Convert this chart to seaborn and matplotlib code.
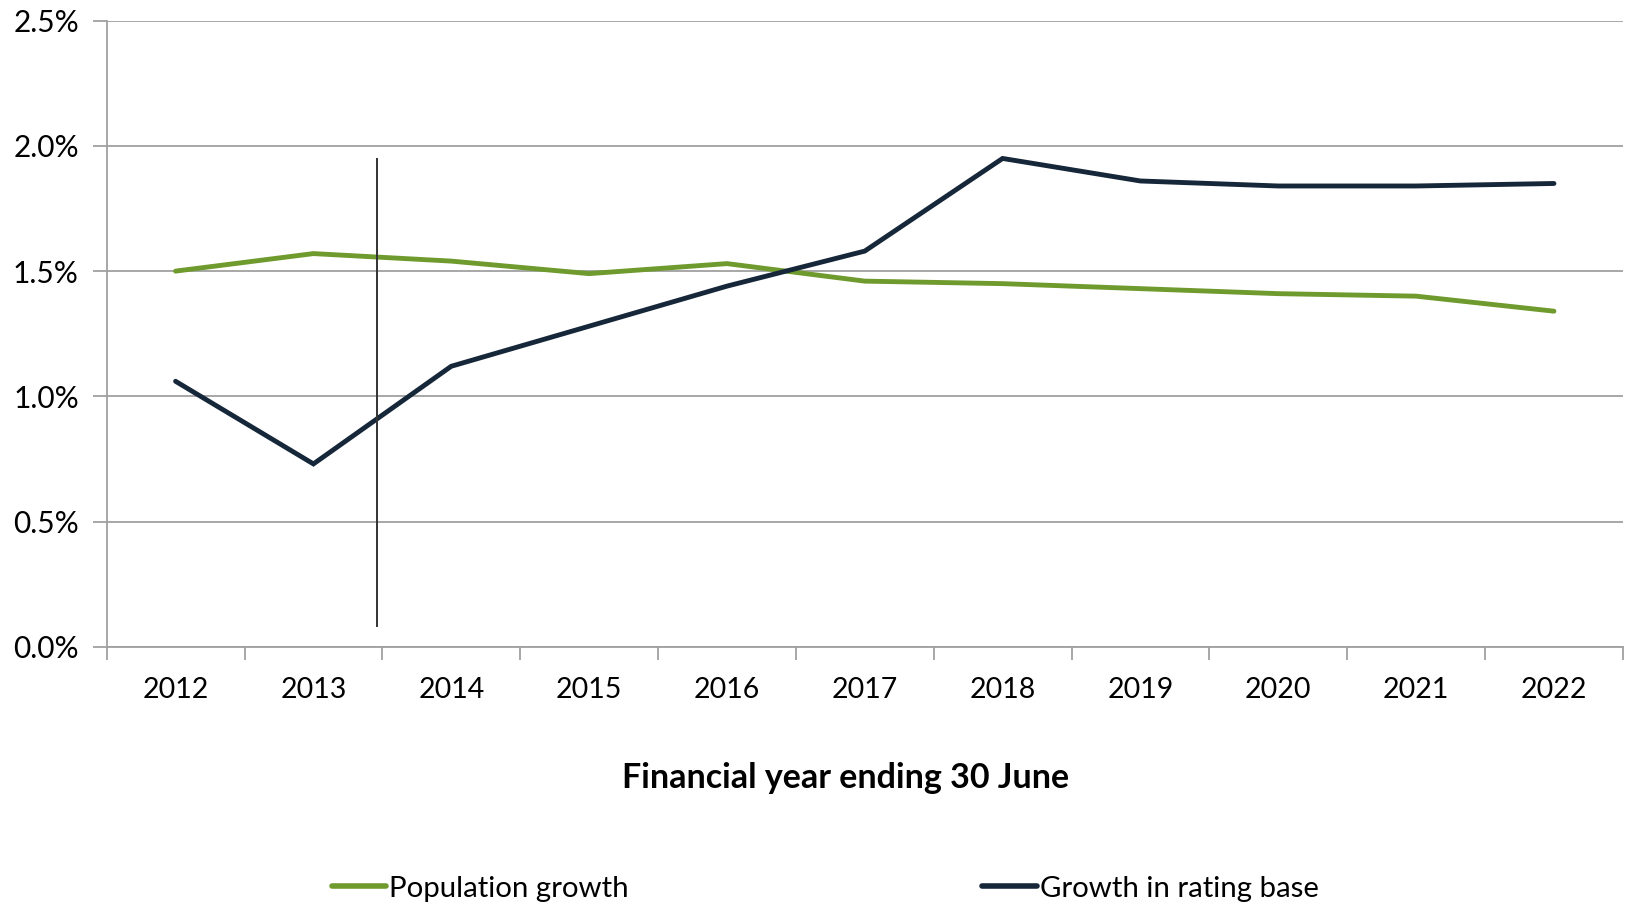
import matplotlib
matplotlib.use("Agg")
import matplotlib.pyplot as plt
import seaborn as sns
import pandas as pd
from matplotlib.ticker import FuncFormatter, FixedLocator
from matplotlib.lines import Line2D

years = ["2012", "2013", "2014", "2015", "2016", "2017", "2018", "2019", "2020", "2021", "2022"]
population_growth = [1.50, 1.57, 1.54, 1.49, 1.53, 1.46, 1.45, 1.43, 1.41, 1.40, 1.34]
rating_base_growth = [1.06, 0.73, 1.12, 1.28, 1.44, 1.58, 1.95, 1.86, 1.84, 1.84, 1.85]
series_names = ["Population growth", "Growth in rating base"]
y_ticks = [0.0, 0.5, 1.0, 1.5, 2.0, 2.5]
marker_line = (1.46, 0.08, 1.95)  # x position (between 2013 and 2014), y bottom, y top

df = pd.DataFrame({
    "year": years * 2,
    "value": population_growth + rating_base_growth,
    "series": [series_names[0]] * len(years) + [series_names[1]] * len(years),
})

sns.set_theme(style="white")
plt.rcParams["font.family"] = ["Lato", "DejaVu Sans"]
plt.rcParams["text.color"] = "black"

fig = plt.figure(figsize=(16.31, 9.05), dpi=100)
ax = fig.add_axes([0.0654, 0.2854, 0.9296, 0.6917])

palette = {series_names[0]: "#6f9a2d", series_names[1]: "#17273a"}
sns.lineplot(data=df, x="year", y="value", hue="series", palette=palette,
             linewidth=3.5, ax=ax, sort=False, legend=False,
             solid_capstyle="round", solid_joinstyle="miter")

ax.set_xlim(-0.5, len(years) - 0.5)
ax.set_ylim(0, 2.5)
ax.yaxis.set_major_locator(FixedLocator(y_ticks))
ax.yaxis.set_major_formatter(FuncFormatter(lambda v, p: f"{v:.1f}%"))
ax.grid(axis="y", color="#a0a0a0", linewidth=1.3)
ax.set_axisbelow(True)

ax.set_xticks(range(len(years)))
ax.set_xticklabels(years)
ax.set_xticks([i - 0.5 for i in range(len(years) + 1)], minor=True)
ax.tick_params(axis="x", which="major", length=0, pad=22, labelsize=20.5, colors="black")
ax.tick_params(axis="x", which="minor", length=9, width=1.3, color="#a0a0a0", direction="out", bottom=True)
ax.tick_params(axis="y", which="major", length=10, width=1.3, color="#a0a0a0", direction="out",
               left=True, pad=10, labelsize=21.5, labelcolor="black")

for s in ["top", "right"]:
    ax.spines[s].set_visible(False)
for s in ["left", "bottom"]:
    ax.spines[s].set_color("#a0a0a0")
    ax.spines[s].set_linewidth(1.3)

ax.vlines(marker_line[0], marker_line[1], marker_line[2], color="#333333", linewidth=1.4)

ax.set_xlabel("Financial year ending 30 June", fontsize=24.5, fontweight="bold", labelpad=42, color="black")
ax.xaxis.label.set_x(0.4876)
ax.set_ylabel("")

handles = [Line2D([0], [0], color=palette[n], linewidth=4, solid_capstyle="round") for n in series_names]
leg = fig.legend(handles, series_names, loc="center", bbox_to_anchor=(0.506, 0.018), ncol=2,
                 frameon=False, fontsize=21.2, handlelength=1.85, handletextpad=0.1, columnspacing=12.0)
for t in leg.get_texts():
    t.set_color("black")

fig.savefig("out.png", dpi=100)
